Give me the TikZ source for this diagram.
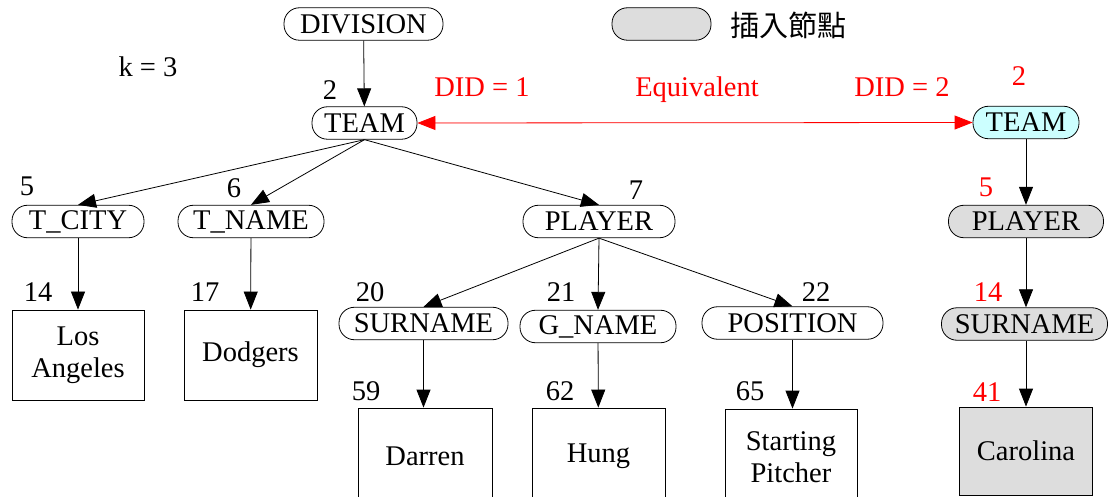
\documentclass[tikz,border=0pt]{standalone}
\usepackage{fontspec}
\setmainfont{Liberation Serif}
\newfontfamily\cjk{Noto Sans CJK TC}
\usetikzlibrary{arrows.meta}
\definecolor{lcyan}{HTML}{CCFFFF}
\definecolor{lgray}{HTML}{DDDDDD}
\begin{document}
\begin{tikzpicture}[x=1pt,y=-1pt,
  every node/.style={font=\fontsize{28.5}{32}\selectfont, inner sep=0pt},
  pill/.style={draw, rounded corners=15.5pt, minimum height=32.5pt, line width=0.8pt},
  leaf/.style={draw, minimum height=90pt, minimum width=133pt, align=center, line width=0.8pt},
  num/.style={},
  rnum/.style={text=red},
  edge/.style={draw, line width=0.8pt, -{Triangle[length=18pt,width=14pt]}},
  redge/.style={draw=red, line width=0.8pt, {Triangle[length=18pt,width=14pt]}-{Triangle[length=18pt,width=14pt]}, fill=red}
]
\useasboundingbox (0,0) rectangle (1109,497);
\clip (0,0) rectangle (1109,497);

% legend
\node[pill, fill=lgray, minimum width=99pt] (legbox) at (661.5,24) {};
\node (legtext) at (788,25) {\cjk\fontsize{29}{30}\selectfont 插入節點};
\node (k) at (148,67) {k = 3};

% left tree
\node[pill, minimum width=159pt] (div) at (363.5,24) {DIVISION};
\node[pill, minimum width=105pt] (team) at (364.5,123) {TEAM};
\node[pill, minimum width=132pt] (tcity) at (78,221.5) {T\_CITY};
\node[pill, minimum width=146pt] (tname) at (251,221.5) {T\_NAME};
\node[pill, minimum width=152pt] (player) at (599,221.5) {PLAYER};
\node[pill, minimum width=169pt] (surname) at (423.5,323.5) {SURNAME};
\node[pill, minimum width=156pt] (gname) at (598,326.5) {G\_NAME};
\node[pill, minimum width=181pt] (position) at (792.5,323) {POSITION};

\node[leaf, minimum width=132pt] (la) at (78,355) {Los\\Angeles};
\node[leaf] (dodgers) at (250.5,355) {Dodgers};
\node[leaf, minimum width=134pt, minimum height=96pt] (darren) at (425,456) {Darren};
\node[leaf, minimum height=96pt] (hung) at (598.5,456) {Hung};
\node[leaf, minimum width=132pt, minimum height=96pt] (starting) at (791,457) {Starting\\Pitcher};

% numbers
\node[num] (n2) at (330,90) {2};
\node[num] (n5) at (27,186) {5};
\node[num] (n6) at (234,188) {6};
\node[num] (n7) at (636,190) {7};
\node[num] (n14) at (38,292) {14};
\node[num] (n17) at (205,292) {17};
\node[num] (n20) at (370,292) {20};
\node[num] (n21) at (561,292) {21};
\node[num] (n22) at (816,292) {22};
\node[num] (n59) at (366,391) {59};
\node[num] (n62) at (560,391) {62};
\node[num] (n65) at (750,391) {65};

% right column
\node[pill, fill=lcyan, minimum width=106pt] (team2) at (1026,122.5) {TEAM};
\node[pill, fill=lgray, minimum width=155pt] (player2) at (1026,221.5) {PLAYER};
\node[pill, fill=lgray, minimum width=166pt] (surname2) at (1024.5,324) {SURNAME};
\node[leaf, fill=lgray, minimum width=133pt, minimum height=88pt] (carolina) at (1026,451) {Carolina};

\node[rnum] (r2) at (1019,76) {2};
\node[rnum] (r5) at (986,187) {5};
\node[rnum] (r14) at (988,292) {14};
\node[rnum] (r41) at (987,392) {41};

\node[text=red] (did1) at (482,87) {DID = 1};
\node[text=red] (equiv) at (697,90) {Equivalent};
\node[text=red] (did2) at (902,87) {DID = 2};

% connectors
\path[edge] (div) -- (team);
\path[edge] (team.south) -- (tcity.north);
\path[edge] (team.south) -- (tname.north);
\path[edge] (team.south) -- (player.north);
\path[edge] (player.south) -- (surname.north);
\path[edge] (player.south) -- (gname.north);
\path[edge] (player.south) -- (position.north);
\path[edge] (tcity) -- (la);
\path[edge] (tname) -- (dodgers);
\path[edge] (surname.south) -- (surname.south |- darren.north);
\path[edge] (gname) -- (hung);
\path[edge] (position.south) -- (position.south |- starting.north);
\path[edge] (team2) -- (player2);
\path[edge] (player2.south) -- (player2.south |- surname2.north);
\path[edge] (surname2.south -| carolina.north) -- (carolina.north);
\path[redge] (team.east) -- (team2.west);
\end{tikzpicture}
\end{document}
